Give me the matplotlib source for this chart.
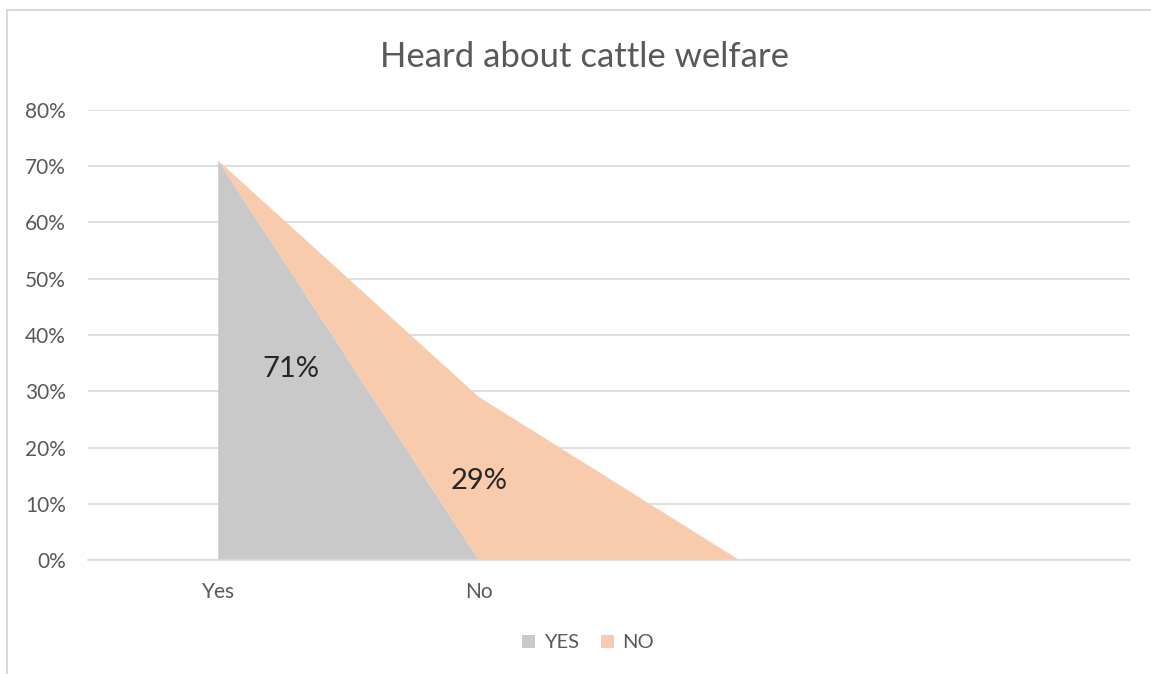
import numpy as np
import matplotlib.pyplot as plt
from matplotlib.patches import Rectangle

categories = ["Yes", "No", "", ""]
yes_vals = [0.71, 0.0, 0.0]
no_vals = [0.0, 0.29, 0.0]
labels = ["71%", "29%"]
label_pos = [(0.28, 0.34), (1.0, 0.14)]

plt.rcParams['font.family'] = ['Lato', 'DejaVu Sans']

W, H = 1151, 674
fig = plt.figure(figsize=(W/100, H/100), dpi=100)
ax = fig.add_axes([88/W, (H-560)/H, (1130-88)/W, (560-110)/H])

x = np.arange(len(yes_vals))
ax.stackplot(x, yes_vals, no_vals, colors=['#c9c9c9', '#f8cbad'],
             labels=['YES', 'NO'], linewidth=0)

ax.set_xlim(-0.5, len(categories)-0.5)
ax.set_ylim(0, 0.8)
ax.set_yticks(np.arange(0, 0.81, 0.1))
ax.set_yticklabels([f"{int(round(v*100))}%" for v in np.arange(0, 0.81, 0.1)])
ax.set_xticks(np.arange(len(categories)))
ax.set_xticklabels(categories)
ax.tick_params(axis='both', length=0, labelsize=15, labelcolor='#595959')
ax.tick_params(axis='y', pad=16)
ax.tick_params(axis='x', pad=16)
ax.grid(axis='y', color='#d9d9d9', linewidth=1.2)
ax.set_axisbelow(True)
for s in ['top', 'right', 'left']:
    ax.spines[s].set_visible(False)
ax.spines['bottom'].set_color('#d9d9d9')
ax.spines['bottom'].set_linewidth(1.2)

for t, (px, py) in zip(labels, label_pos):
    ax.text(px, py, t, fontsize=21, color='#262626', ha='center', va='center')

fig.text(584/W, 1-57/H, "Heard about cattle welfare", fontsize=25,
         color='#595959', ha='center', va='center')

fig.legend(loc='center', bbox_to_anchor=(588/W, 1-643/H), ncol=2,
           frameon=False, fontsize=14.5, labelcolor='#595959',
           handlelength=0.65, handleheight=0.65, handletextpad=0.4, columnspacing=1.1)

fig.patches.append(Rectangle((7/W, -0.1), 1.2, 1-10/H+0.1, transform=fig.transFigure,
                             fill=False, edgecolor='#d9d9d9', linewidth=1.5))

fig.savefig("out.png", dpi=100)
